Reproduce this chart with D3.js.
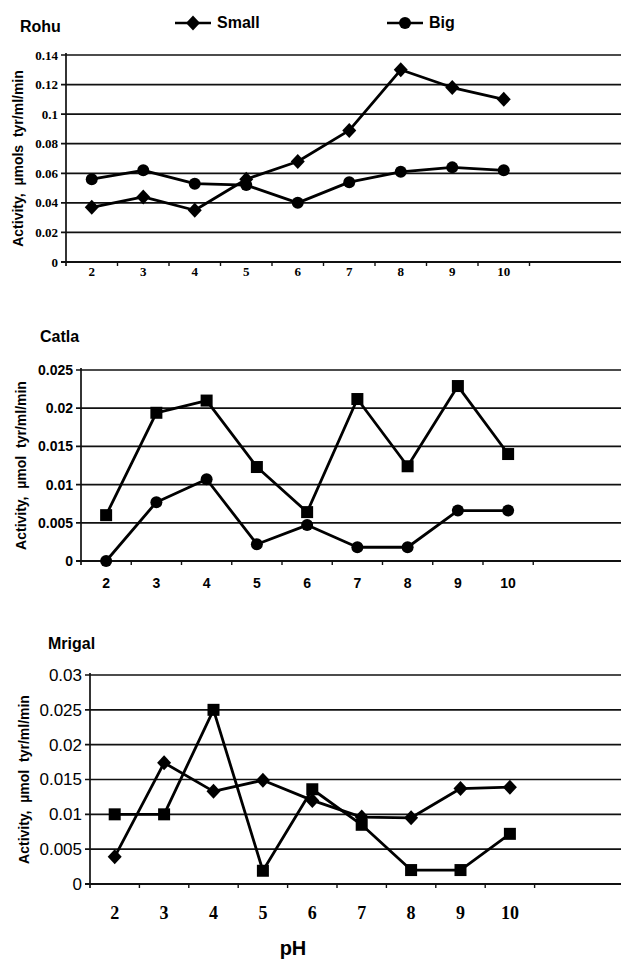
<!DOCTYPE html>
<html><head><meta charset="utf-8">
<script src="https://cdn.jsdelivr.net/npm/d3@7"></script>
<style>body{margin:0;background:#fff}svg{display:block}</style>
</head><body>
<script>
const phs = [2,3,4,5,6,7,8,9,10];
const rohuSmall = [0.037,0.044,0.035,0.056,0.068,0.089,0.130,0.118,0.110];
const rohuBig = [0.056,0.062,0.053,0.052,0.040,0.054,0.061,0.064,0.062];
const catlaSquare = [0.006,0.0194,0.021,0.0123,0.0064,0.0212,0.0124,0.0229,0.014];
const catlaCircle = [0,0.0077,0.0107,0.0022,0.0047,0.0018,0.0018,0.0066,0.0066];
const mrigalSquare = [0.010,0.010,0.025,0.0019,0.0136,0.0085,0.002,0.002,0.0072];
const mrigalDiamond = [0.0039,0.0174,0.0133,0.0149,0.012,0.0096,0.0095,0.0137,0.0139];
const rohuTicks = [0,0.02,0.04,0.06,0.08,0.1,0.12,0.14];
const catlaTicks = [0,0.005,0.01,0.015,0.02,0.025];
const mrigalTicks = [0,0.005,0.01,0.015,0.02,0.025,0.03];
const legendLabels = ["Small","Big"];

const W = 621, H = 959;
const svg = d3.select("body").append("svg").attr("width", W).attr("height", H);

const panels = [
  {title:"Rohu", tx:20, ty:32, yl:"Activity,  \u00b5mols  tyr/ml/min", ylx:23, ylFont:"bold 14px 'Liberation Sans'", ticks:rohuTicks, max:0.14,
   left:66, step:51.5, top:55, bottom:262, xlabY:276,
   yFont:"bold 13px 'Liberation Serif'", xFont:"bold 13px 'Liberation Serif'",
   series:[{v:rohuSmall, m:"diamond"},{v:rohuBig, m:"circle"}]},
  {title:"Catla", tx:40, ty:342, yl:"Activity,  \u00b5mol  tyr/ml/min", ylx:26, ylFont:"bold 14px 'Liberation Sans'", ticks:catlaTicks, max:0.025,
   left:81, step:50.25, top:370, bottom:561, xlabY:588,
   yFont:"bold 14px 'Liberation Sans'", xFont:"bold 14px 'Liberation Sans'",
   series:[{v:catlaSquare, m:"square"},{v:catlaCircle, m:"circle"}]},
  {title:"Mrigal", tx:48, ty:649, yl:"Activity,  \u00b5mol  tyr/ml/min", ylx:29, ylFont:"bold 14px 'Liberation Sans'", ticks:mrigalTicks, max:0.03,
   left:90, step:49.4, top:675, bottom:884, xlabY:919,
   yFont:"17px 'Liberation Sans'", xFont:"bold 18px 'Liberation Serif'",
   series:[{v:mrigalSquare, m:"square"},{v:mrigalDiamond, m:"diamond"}]}
];

function marker(g, type, x, y) {
  if (type === "circle") g.append("circle").attr("cx", x).attr("cy", y).attr("r", 6).attr("fill", "#000");
  else if (type === "square") g.append("rect").attr("x", x-6).attr("y", y-6).attr("width", 12).attr("height", 12).attr("fill", "#000");
  else g.append("path").attr("d", `M${x},${y-7.5}L${x+7},${y}L${x},${y+7.5}L${x-7},${y}Z`).attr("fill", "#000");
}

panels.forEach(p => {
  const g = svg.append("g");
  const x = d3.scaleBand().domain(phs).range([p.left, p.left + p.step*phs.length]);
  const y = d3.scaleLinear().domain([0, p.max]).range([p.bottom, p.top]);
  g.selectAll(".grid").data(p.ticks).join("line")
    .attr("x1", p.left - 5).attr("x2", W).attr("y1", d => y(d)).attr("y2", d => y(d))
    .attr("stroke", "#111").attr("stroke-width", d => d === 0 ? 1.9 : 1.7);
  g.append("line").attr("x1", p.left).attr("x2", p.left).attr("y1", y(p.max)-2).attr("y2", p.bottom+4)
    .attr("stroke", "#111").attr("stroke-width", 1.7);
  const edges = phs.map(d => x(d)).concat([x(phs[phs.length-1]) + x.bandwidth()]);
  g.selectAll(".xt").data(edges.slice(1)).join("line")
    .attr("x1", d => d).attr("x2", d => d).attr("y1", p.bottom).attr("y2", p.bottom+4)
    .attr("stroke", "#111").attr("stroke-width", 1.4);
  g.selectAll(".yl").data(p.ticks).join("text")
    .attr("x", p.left - 8).attr("y", d => y(d)).attr("dy", "0.35em")
    .attr("text-anchor", "end").style("font", p.yFont).attr("fill", "#000")
    .text(d => String(+d.toFixed(3)));
  g.selectAll(".xl").data(phs).join("text")
    .attr("x", d => x(d) + x.bandwidth()/2).attr("y", p.xlabY)
    .attr("text-anchor", "middle").style("font", p.xFont).attr("fill", "#000")
    .text(d => d);
  g.append("text").attr("x", p.tx).attr("y", p.ty).style("font", "bold 16px 'Liberation Sans'").text(p.title);
  g.append("text").attr("transform", `translate(${p.ylx},${(p.top+p.bottom)/2}) rotate(-90)`)
    .attr("text-anchor", "middle").style("font", p.ylFont).style("white-space", "pre")
    .attr("fill", "#000").text(p.yl);
  const line = d3.line().x((d,i) => x(phs[i]) + x.bandwidth()/2).y(d => y(d));
  p.series.forEach(s => {
    g.append("path").attr("d", line(s.v)).attr("fill", "none").attr("stroke", "#000").attr("stroke-width", 2.8)
      .attr("stroke-linejoin", "round");
    s.v.forEach((v,i) => marker(g, s.m, x(phs[i]) + x.bandwidth()/2, y(v)));
  });
});

const lg = svg.append("g");
const legendItems = [{label:legendLabels[0], m:"diamond", x:175}, {label:legendLabels[1], m:"circle", x:387}];
legendItems.forEach(it => {
  lg.append("line").attr("x1", it.x).attr("x2", it.x+36).attr("y1", 23).attr("y2", 23).attr("stroke", "#000").attr("stroke-width", 2.4);
  marker(lg, it.m, it.x+18, 23);
  lg.append("text").attr("x", it.x+42).attr("y", 28).style("font", "bold 16px 'Liberation Sans'").text(it.label);
});

svg.append("text").attr("x", 293).attr("y", 955).attr("text-anchor", "middle")
  .style("font", "bold 20px 'Liberation Sans'").text("pH");
</script>
</body></html>
